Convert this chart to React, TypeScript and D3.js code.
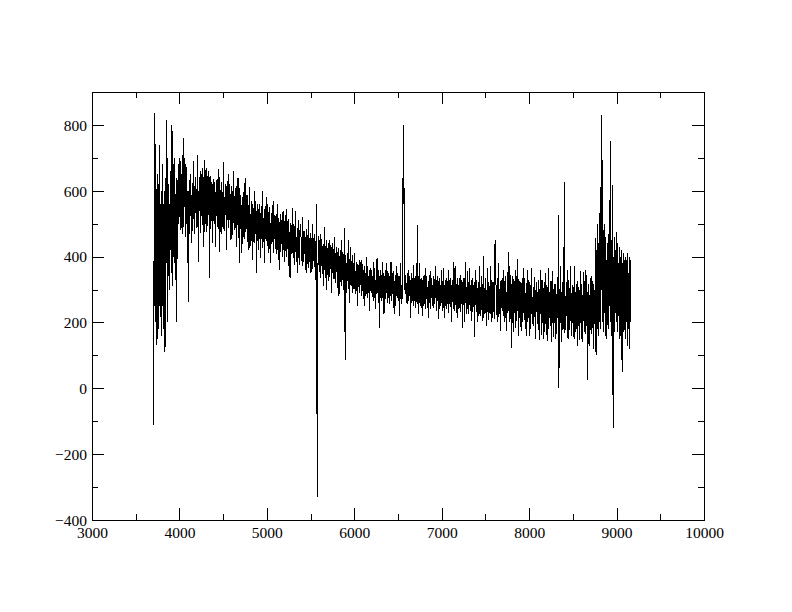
import React, { useEffect, useRef } from 'react';
import * as d3 from 'd3';

// axis ticks
const xTicks = [3000, 4000, 5000, 6000, 7000, 8000, 9000, 10000];
const xMinor = [3500, 4500, 5500, 6500, 7500, 8500, 9500];
const yTicks = [-400, -200, 0, 200, 400, 600, 800];
const yMinor = [-300, -100, 100, 300, 500, 700];

// spectrum, one value every 5 A starting at 3700 A (one row = 100 A)
const startWave = 3700;
const waveStep = 5;
const flux = [
  370, -110, 450, 250, 836, 200, 557, 131, 480, 650, 150, 620, 180, 600, 250, 740, 300, 560, 160, 600, // 3700
  300, 680, 250, 560, 180, 600, 330, 110, 590, 640, 380, 815, 200, 700, 340, 620, 420, 560, 300, 660, // 3800
  420, 650, 350, 800, 310, 620, 400, 680, 380, 700, 450, 590, 330, 640, 200, 600, 460, 680, 500, 640, // 3900
  520, 700, 480, 690, 530, 650, 470, 710, 520, 760, 490, 700, 550, 640, 460, 680, 500, 620, 383, 600, // 4000
  262, 497, 605, 470, 632, 524, 650, 440, 587, 479, 623, 506, 690, 515, 614, 470, 641, 533, 605, 488, // 4100
  514, 708, 489, 599, 383, 642, 540, 633, 472, 660, 523, 650, 497, 670, 531, 642, 430, 608, 693, 633, // 4200
  603, 475, 670, 518, 645, 492, 660, 526, 637, 335, 645, 484, 594, 509, 628, 440, 620, 518, 637, 509, // 4300
  627, 499, 595, 430, 619, 523, 635, 491, 579, 483, 665, 413, 643, 515, 603, 475, 627, 470, 595, 491, // 4400
  502, 687, 478, 582, 494, 622, 526, 614, 420, 598, 510, 630, 486, 650, 518, 622, 470, 590, 450, 614, // 4500
  578, 465, 600, 503, 660, 480, 585, 510, 608, 488, 615, 430, 570, 495, 640, 458, 593, 380, 608, 495, // 4600
  588, 468, 558, 410, 580, 490, 595, 460, 623, 453, 573, 475, 640, 483, 565, 445, 588, 498, 558, 420, // 4700
  455, 610, 433, 530, 448, 568, 478, 560, 390, 545, 463, 600, 440, 553, 470, 568, 350, 538, 448, 560, // 4800
  525, 420, 546, 455, 560, 395, 532, 462, 553, 441, 600, 427, 518, 448, 546, 380, 539, 455, 553, 448, // 4900
  581, 431, 560, 410, 536, 452, 550, 424, 501, 380, 529, 438, 557, 445, 522, 410, 570, 459, 515, 424, // 5000
  426, 530, 407, 491, 420, 560, 446, 517, 360, 504, 433, 530, 413, 511, 439, 524, 400, 540, 420, 517, // 5100
  483, 385, 502, 418, 545, 398, 489, 424, 509, 370, 515, 392, 476, 335, 502, 379, 496, 418, 548, 411, // 5200
  499, 395, 473, 375, 492, 414, 540, 388, 460, 382, 486, 350, 512, 408, 479, 375, 499, 460, 473, 388, // 5300
  389, 520, 371, 449, 383, 479, 407, 473, 359, 461, 350, 485, 377, 467, 401, 510, 365, 455, 383, 473, // 5400
  440, 350, 458, 380, 500, 362, 446, 386, 464, 368, 470, 330, 434, 374, 560, -330, 170, 380, 464, 374, // 5500
  449, 353, 470, 335, 443, 371, 455, 347, 413, 310, 437, 359, 490, 365, 431, 335, 449, 298, 425, 347, // 5600
  344, 440, 326, 450, 338, 434, 362, 428, 290, 416, 350, 440, 332, 422, 356, 460, 320, 410, 338, 428, // 5700
  395, 305, 413, 335, 425, 280, 401, 341, 419, 323, 450, 311, 389, 329, 413, 299, 407, 335, 487, 85, // 5800
  404, 308, 380, 290, 398, 326, 450, 302, 368, 260, 392, 314, 430, 320, 386, 290, 404, 332, 380, 302, // 5900
  302, 410, 286, 357, 297, 385, 319, 379, 250, 368, 308, 390, 291, 374, 313, 385, 280, 390, 297, 379, // 6000
  345, 270, 360, 250, 370, 280, 350, 300, 400, 285, 370, 275, 340, 290, 360, 235, 355, 295, 365, 290, // 6100
  360, 280, 340, 265, 385, 295, 365, 275, 330, 240, 350, 285, 395, 290, 345, 265, 360, 183, 340, 275, // 6200
  280, 360, 265, 330, 275, 385, 295, 350, 225, 340, 285, 360, 270, 380, 290, 355, 260, 335, 275, 350, // 6300
  330, 255, 345, 280, 385, 265, 335, 285, 350, 270, 355, 225, 325, 275, 345, 250, 370, 280, 350, 275, // 6400
  345, 265, 325, 220, 340, 280, 380, 260, 315, 255, 335, 480, 800, 560, 608, 300, 345, 285, 325, 260, // 6500
  270, 350, 255, 360, 265, 345, 285, 340, 215, 330, 275, 350, 260, 335, 280, 375, 250, 325, 265, 340, // 6600
  320, 245, 335, 270, 496, 255, 325, 225, 340, 260, 380, 250, 315, 265, 335, 240, 330, 220, 340, 265, // 6700
  335, 255, 365, 240, 330, 270, 340, 250, 305, 215, 325, 260, 345, 265, 355, 240, 335, 275, 315, 250, // 6800
  260, 340, 245, 310, 255, 370, 275, 330, 235, 320, 265, 340, 210, 325, 270, 335, 240, 315, 255, 360, // 6900
  310, 235, 325, 260, 365, 245, 315, 215, 330, 250, 335, 240, 305, 255, 325, 230, 360, 260, 330, 255, // 7000
  335, 247, 313, 200, 329, 263, 340, 241, 383, 236, 324, 252, 370, 258, 318, 230, 335, 215, 313, 241, // 7100
  247, 335, 231, 345, 242, 330, 264, 324, 183, 313, 253, 335, 200, 319, 258, 384, 225, 308, 242, 355, // 7200
  308, 225, 324, 253, 365, 236, 313, 258, 330, 205, 335, 231, 302, 247, 324, 155, 319, 253, 360, 247, // 7300
  329, 200, 305, 215, 323, 251, 370, 227, 293, 221, 317, 239, 341, 205, 311, 215, 401, 257, 305, 227, // 7400
  239, 335, 190, 299, 233, 365, 257, 323, 209, 311, 245, 370, 227, 317, 200, 329, 215, 305, 233, 323, // 7500
  308, 210, 450, 370, 340, 223, 314, 200, 334, 230, 380, 217, 301, 236, 327, 175, 321, 243, 334, 236, // 7600
  333, 221, 360, 200, 326, 242, 340, 214, 291, 175, 319, 228, 413, 235, 312, 200, 370, 249, 305, 122, // 7700
  220, 340, 198, 295, 170, 333, 243, 325, 183, 360, 228, 340, 205, 394, 235, 333, 160, 303, 213, 325, // 7800
  298, 185, 320, 175, 335, 200, 305, 230, 365, 208, 335, 193, 290, 160, 320, 178, 360, 223, 328, 215, // 7900
  323, 160, 293, 180, 315, 225, 365, 195, 278, 188, 308, 210, 338, 218, 300, 150, 323, 233, 293, 195, // 8000
  202, 330, 178, 282, 146, 322, 226, 360, 162, 298, 210, 330, 150, 306, 218, 322, 170, 350, 194, 314, // 8100
  285, 143, 309, 205, 365, 181, 293, 213, 317, 189, 325, 140, 277, 197, 355, 157, 301, 205, 317, 197, // 8200
  317, 150, 285, 165, 309, 213, 325, 527, 0, 173, 301, 197, 370, 205, 293, 140, 317, 221, 430, 181, // 8300
  194, 627, 169, 279, 186, 322, 220, 360, 152, 296, 150, 330, 177, 305, 211, 370, 160, 288, 186, 313, // 8400
  283, 155, 308, 150, 370, 172, 291, 206, 317, 181, 325, 130, 274, 189, 308, 147, 300, 198, 355, 189, // 8500
  317, 140, 283, 155, 353, 206, 325, 172, 266, 164, 360, 189, 334, 25, 291, 155, 317, 130, 283, 172, // 8600
  191, 335, 164, 340, 182, 326, 218, 317, 120, 299, 200, 335, 456, 100, 420, 250, 500, 180, 440, 160, // 8700
  450, 200, 520, 611, 180, 830, 300, 693, 200, 480, 170, 420, 230, 500, 160, 460, 220, 390, 150, 440, // 8800
  210, 470, 180, 430, 250, 566, 750, 200, 450, 160, 480, 617, -121, 400, 190, 460, 170, 420, 230, 475, // 8900
  200, 440, 170, 410, 220, 380, 150, 430, 190, 400, 160, 420, 120, 49, 380, 200, 411, 170, 390, 180, // 9000
  400, 150, 370, 200, 411, 130, 380, 180, 350, 120, 400, 200, 390, // 9100
];

export default function App() {
  const ref = useRef<SVGSVGElement>(null);

  useEffect(() => {
    const svg = d3.select(ref.current);
    svg.selectAll('*').remove();

    const left = 92, right = 704, top = 92, bottom = 520;

    const x = d3.scaleLinear().domain([3000, 10000]).range([left, right]);
    const y = d3.scaleLinear().domain([-400, 900]).range([bottom, top]);

    const line = d3.line<number>()
      .x((d, i) => x(startWave + i * waveStep))
      .y(d => y(d));

    svg.append('path')
      .datum(flux)
      .attr('d', line)
      .attr('fill', 'none')
      .attr('stroke', '#000')
      .attr('stroke-width', 1)
      .attr('shape-rendering', 'crispEdges');

    const clean = g => g.select('.domain').remove();

    // bottom
    svg.append('g')
      .attr('transform', `translate(0, ${bottom})`)
      .call(d3.axisBottom(x).tickValues(xTicks).tickSizeInner(-12).tickSizeOuter(0).tickFormat(d3.format('d')))
      .call(clean)
      .call(g => g.selectAll('text').attr('dy', null).attr('y', 18));
    svg.append('g')
      .attr('transform', `translate(0, ${bottom})`)
      .call(d3.axisBottom(x).tickValues(xMinor).tickSizeInner(-6).tickSizeOuter(0).tickFormat(() => ''))
      .call(clean);

    // top
    svg.append('g')
      .attr('transform', `translate(0, ${top})`)
      .call(d3.axisTop(x).tickValues(xTicks).tickSizeInner(-12).tickSizeOuter(0).tickFormat(() => ''))
      .call(clean);
    svg.append('g')
      .attr('transform', `translate(0, ${top})`)
      .call(d3.axisTop(x).tickValues(xMinor).tickSizeInner(-6).tickSizeOuter(0).tickFormat(() => ''))
      .call(clean);

    // left
    svg.append('g')
      .attr('transform', `translate(${left}, 0)`)
      .call(d3.axisLeft(y).tickValues(yTicks).tickSizeInner(-12).tickSizeOuter(0).tickPadding(5).tickFormat(d3.format('d')))
      .call(clean)
      .call(g => g.selectAll('text').attr('dy', '0.34em'));
    svg.append('g')
      .attr('transform', `translate(${left}, 0)`)
      .call(d3.axisLeft(y).tickValues(yMinor).tickSizeInner(-6).tickSizeOuter(0).tickFormat(() => ''))
      .call(clean);

    // right
    svg.append('g')
      .attr('transform', `translate(${right}, 0)`)
      .call(d3.axisRight(y).tickValues(yTicks).tickSizeInner(-12).tickSizeOuter(0).tickFormat(() => ''))
      .call(clean);
    svg.append('g')
      .attr('transform', `translate(${right}, 0)`)
      .call(d3.axisRight(y).tickValues(yMinor).tickSizeInner(-6).tickSizeOuter(0).tickFormat(() => ''))
      .call(clean);

    svg.selectAll('.tick line').attr('stroke', '#000').attr('shape-rendering', 'crispEdges');
    svg.selectAll('.tick text')
      .attr('fill', '#000')
      .attr('font-family', 'Liberation Serif')
      .attr('font-size', 15.5);

    svg.append('rect')
      .attr('x', left)
      .attr('y', top)
      .attr('width', right - left)
      .attr('height', bottom - top)
      .attr('fill', 'none')
      .attr('stroke', '#000')
      .attr('shape-rendering', 'crispEdges');
  }, []);

  return (
    <svg
      ref={ref}
      width={792}
      height={612}
      style={{ position: 'absolute', left: 0, top: 0, background: '#fff' }}
    />
  );
}
